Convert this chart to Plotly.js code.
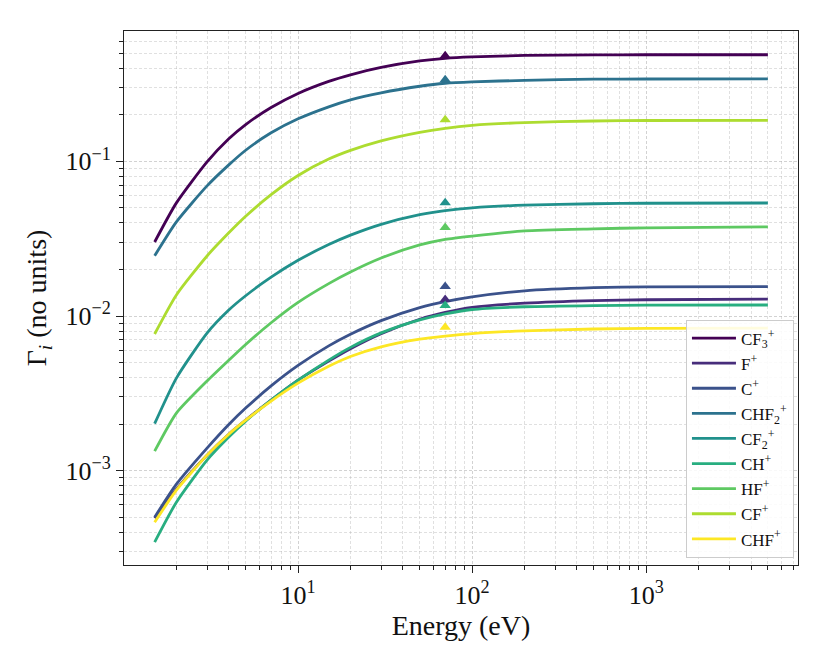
<!DOCTYPE html>
<html>
<head>
<meta charset="utf-8">
<script src="https://cdn.plot.ly/plotly-3.0.1.min.js"></script>
<style>
  html, body { margin: 0; padding: 0; background: #ffffff; }
  #myDiv { width: 830px; height: 664px; }
</style>
</head>
<body>
<div id="myDiv"></div>
<script>
// energies (eV) where the curves were read
var energy = [1.5, 2, 3, 4, 5, 7, 10, 15, 20, 30, 50, 70, 100, 200, 500, 1000, 5000];

var CF3 = [0.0301, 0.0539, 0.0993, 0.140, 0.173, 0.223, 0.275, 0.329, 0.363, 0.405, 0.446, 0.464, 0.474, 0.484, 0.488, 0.489, 0.489];
var F = [0.000493, 0.000759, 0.00126, 0.00172, 0.00212, 0.00286, 0.00385, 0.00511, 0.00615, 0.00769, 0.00953, 0.01054, 0.01138, 0.01211, 0.01259, 0.01274, 0.01285];
var C = [0.000500, 0.000818, 0.00140, 0.00199, 0.00254, 0.00353, 0.00479, 0.00641, 0.00762, 0.00933, 0.01132, 0.01239, 0.01330, 0.01455, 0.01524, 0.01545, 0.01549];
var CHF2 = [0.0245, 0.0406, 0.0694, 0.0949, 0.118, 0.153, 0.1884, 0.2253, 0.250, 0.2776, 0.306, 0.320, 0.327, 0.334, 0.340, 0.341, 0.342];
var CF2 = [0.002014, 0.003969, 0.00776, 0.01093, 0.01352, 0.01782, 0.02291, 0.02897, 0.03334, 0.03917, 0.0452, 0.0481, 0.0501, 0.0521, 0.0532, 0.0536, 0.0538];
var CH = [0.000345, 0.000625, 0.00117, 0.00165, 0.00209, 0.00286, 0.00385, 0.00519, 0.00627, 0.00778, 0.00944, 0.01033, 0.01102, 0.01148, 0.01169, 0.01175, 0.01178];
var HF = [0.001337, 0.002357, 0.00380, 0.00518, 0.00655, 0.00905, 0.01225, 0.0162, 0.01925, 0.0237, 0.0288, 0.0313, 0.0329, 0.0355, 0.0366, 0.0372, 0.0377];
var CF = [0.00765, 0.01368, 0.02445, 0.0345, 0.04416, 0.06095, 0.0811, 0.1035, 0.1178, 0.1358, 0.1542, 0.1637, 0.1710, 0.1782, 0.1824, 0.1837, 0.184];
var CHF = [0.000464, 0.000748, 0.00126, 0.00172, 0.00212, 0.00282, 0.00368, 0.00473, 0.00547, 0.00632, 0.00708, 0.00741, 0.00769, 0.00802, 0.00824, 0.00832, 0.00836];

// triangles at 70 eV
var markerEnergy = 70;
var markerValues = [0.482, 0.0128, 0.0155, 0.337, 0.0541, 0.0117, 0.0373, 0.186, 0.00845];

var names = ["CF<sub>3</sub><sup>+</sup>", "F<sup>+</sup>", "C<sup>+</sup>", "CHF<sub>2</sub><sup>+</sup>",
             "CF<sub>2</sub><sup>+</sup>", "CH<sup>+</sup>", "HF<sup>+</sup>", "CF<sup>+</sup>", "CHF<sup>+</sup>"];
var series = [CF3, F, C, CHF2, CF2, CH, HF, CF, CHF];

// viridis, 9 steps
var colors = ["#440154", "#472d7b", "#3b528b", "#2c728e", "#21918c", "#28ae80", "#5ec962", "#addc30", "#fde725"];

var SERIF = "'Liberation Serif', 'DejaVu Serif', serif";

//minor ticks 2..9 in every decade between lo and hi
function minorTicks(lo, hi)
{
        var vals = [];
        for (var p = lo; p <= hi; p++)
        {
                for (var m = 2; m <= 9; m++)
                {
                        vals.push(m * Math.pow(10, p));
                }
        }
        return vals;
}

function buildTraces()
{
        var data = [];

        for (var i = 0; i < series.length; i++)
        {
                data.push({
                        x: energy,
                        y: series[i],
                        name: names[i],
                        mode: 'lines',
                        type: 'scatter',
                        line: {color: colors[i], width: 2.8, shape: 'spline', smoothing: 0.6}
                });
        }

        //markers go on after the lines, kept out of the legend
        for (var j = 0; j < markerValues.length; j++)
        {
                data.push({
                        x: [markerEnergy],
                        y: [markerValues[j]],
                        mode: 'markers',
                        type: 'scatter',
                        showlegend: false,
                        hoverinfo: 'skip',
                        marker: {symbol: 'triangle-up', size: 10, color: colors[j]}
                });
        }

        return data;
}

function gridAxis(extra, minorVals)
{
        var ax = {
                type: 'log',
                showline: true,
                mirror: true,
                linecolor: '#222222',
                linewidth: 1,
                ticks: 'outside',
                ticklen: 7,
                tickwidth: 1,
                tickcolor: '#222222',
                showgrid: true,
                gridcolor: 'rgba(175,175,175,0.7)',
                griddash: '3px,2px',
                gridwidth: 0.8,
                zeroline: false,
                tickfont: {family: SERIF, size: 26, color: '#111111'},
                minor: {
                        tickmode: 'array',
                        tickvals: minorVals,
                        ticks: 'outside',
                        ticklen: 4,
                        tickcolor: '#222222',
                        showgrid: true,
                        gridcolor: 'rgba(175,175,175,0.55)',
                        griddash: '3px,2px',
                        gridwidth: 0.7
                }
        };
        for (var k in extra) { ax[k] = extra[k]; }
        return ax;
}

function drawChart()
{
        var layout = {
                width: 830,
                height: 664,
                margin: {l: 124, r: 32, t: 31, b: 99},
                paper_bgcolor: '#ffffff',
                plot_bgcolor: '#ffffff',
                font: {family: SERIF, color: '#111111'},
                xaxis: gridAxis({
                        range: [0, 3.872],
                        automargin: true,
                        tickvals: [10, 100, 1000],
                        ticktext: ["10<sup>1</sup>", "10<sup>2</sup>", "10<sup>3</sup>"],
                        title: {text: "Energy (eV)", font: {family: SERIF, size: 28}, standoff: 2}
                }, minorTicks(0, 3)),
                yaxis: gridAxis({
                        range: [-3.61, -0.157],
                        tickvals: [0.001, 0.01, 0.1],
                        ticktext: ["10<sup>\u22123</sup>", "10<sup>\u22122</sup>", "10<sup>\u22121</sup>"],
                        title: {text: "\u0393<sub><i>i</i></sub> (no units)", font: {family: SERIF, size: 28}, standoff: 10}
                }, minorTicks(-4, -1)),
                legend: {
                        x: 0.994,
                        y: 0.014,
                        xanchor: 'right',
                        yanchor: 'bottom',
                        bgcolor: 'rgba(255,255,255,0.85)',
                        bordercolor: '#cccccc',
                        borderwidth: 1,
                        itemwidth: 44,
                        font: {family: SERIF, size: 17, color: '#111111'},
                        tracegroupgap: 0
                },
                showlegend: true
        };

        Plotly.newPlot('myDiv', buildTraces(), layout, {staticPlot: true});
}

drawChart();
</script>
</body>
</html>
